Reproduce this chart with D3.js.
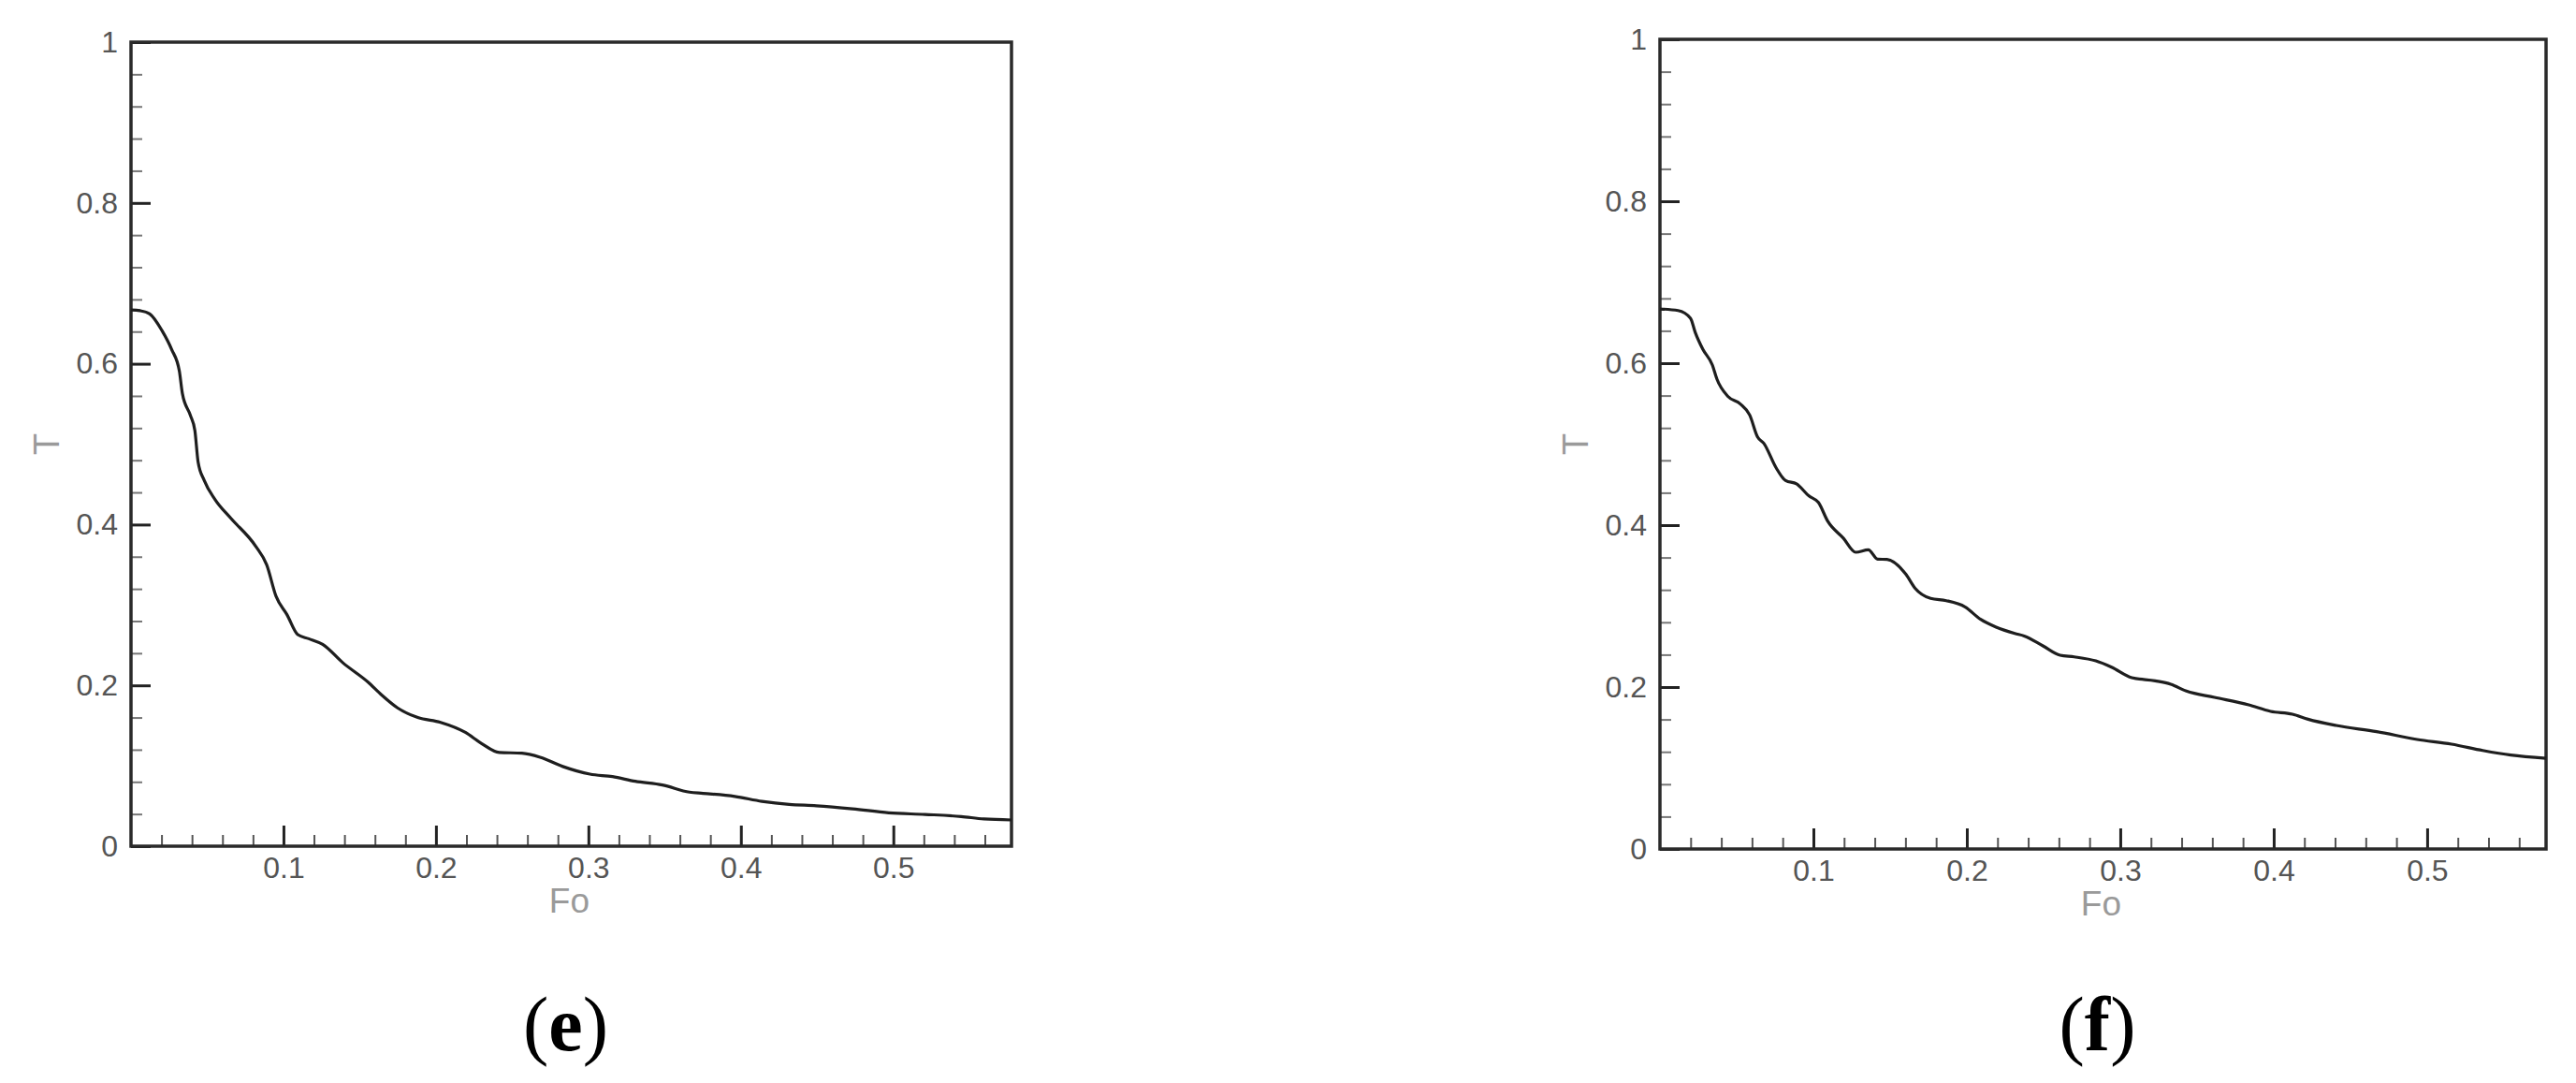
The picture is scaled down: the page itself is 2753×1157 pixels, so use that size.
<!DOCTYPE html>
<html>
<head>
<meta charset="utf-8">
<script src="https://cdn.jsdelivr.net/npm/d3@7"></script>
<style>
  html, body { margin: 0; padding: 0; background: #fff; }
  svg { display: block; }
</style>
</head>
<body>
<script>
// ---- Data ----
const foE = [0.000, 0.006, 0.0123, 0.0204, 0.0266, 0.0317, 0.0337, 0.0389, 0.0419, 0.044, 0.048, 0.0552, 0.0654, 0.0818, 0.089, 0.0951, 0.1023, 0.1094, 0.1166, 0.1257, 0.139, 0.1555, 0.1644, 0.1748, 0.1881, 0.203, 0.2193, 0.2297, 0.2416, 0.2564, 0.2683, 0.2832, 0.301, 0.3158, 0.3307, 0.3485, 0.3663, 0.3752, 0.396, 0.4138, 0.4317, 0.4495, 0.4732, 0.497, 0.5208, 0.5445, 0.5594, 0.5775];
const tE  = [0.667, 0.666, 0.662, 0.641, 0.618, 0.591, 0.563, 0.536, 0.517, 0.478, 0.455, 0.431, 0.408, 0.373, 0.350, 0.311, 0.288, 0.263, 0.258, 0.251, 0.228, 0.204, 0.188, 0.172, 0.160, 0.154, 0.1415, 0.128, 0.1165, 0.1157, 0.1107, 0.0991, 0.0896, 0.0865, 0.0807, 0.0761, 0.0672, 0.0657, 0.0619, 0.0557, 0.0519, 0.0503, 0.0465, 0.0415, 0.0395, 0.0369, 0.0338, 0.0326];

const foF = [0.000, 0.0118, 0.0199, 0.023, 0.028, 0.0341, 0.0372, 0.0443, 0.0524, 0.0585, 0.0636, 0.0677, 0.0758, 0.0819, 0.089, 0.0971, 0.1033, 0.1093, 0.1195, 0.1276, 0.1358, 0.1419, 0.148, 0.1602, 0.1663, 0.1764, 0.1866, 0.1988, 0.209, 0.2191, 0.2313, 0.2374, 0.2496, 0.2608, 0.27, 0.2841, 0.2943, 0.3075, 0.3228, 0.3329, 0.3431, 0.3614, 0.3837, 0.398, 0.4122, 0.4224, 0.4407, 0.4671, 0.4935, 0.5159, 0.5362, 0.5545, 0.5775];
const tF  = [0.667, 0.665, 0.6555, 0.638, 0.617, 0.598, 0.580, 0.559, 0.5495, 0.536, 0.509, 0.501, 0.4705, 0.455, 0.451, 0.436, 0.428, 0.405, 0.384, 0.3665, 0.3695, 0.358, 0.3576, 0.3395, 0.322, 0.3095, 0.3067, 0.299, 0.2836, 0.274, 0.2662, 0.2631, 0.2509, 0.2393, 0.2373, 0.2323, 0.2246, 0.2116, 0.2077, 0.2035, 0.195, 0.1873, 0.178, 0.170, 0.1665, 0.1603, 0.1526, 0.1449, 0.1353, 0.1295, 0.1217, 0.116, 0.1121];

const xMajorTicks = [0.1, 0.2, 0.3, 0.4, 0.5];
const xMinorTicks = [0.02, 0.04, 0.06, 0.08, 0.12, 0.14, 0.16, 0.18, 0.22, 0.24, 0.26, 0.28, 0.32, 0.34, 0.36, 0.38, 0.42, 0.44, 0.46, 0.48, 0.52, 0.54, 0.56];
const yMajorTicks = [0, 0.2, 0.4, 0.6, 0.8, 1];
const yMinorTicks = [0.04, 0.08, 0.12, 0.16, 0.24, 0.28, 0.32, 0.36, 0.44, 0.48, 0.52, 0.56, 0.64, 0.68, 0.72, 0.76, 0.84, 0.88, 0.92, 0.96];
const xDomain = [0, 0.5775];
const yDomain = [0, 1];
const xTitle = "Fo";
const yTitle = "T";
const captions = ["e", "f"];

// ---- Layout ----
const W = 2753, H = 1157;
const panels = [
  { fo: foE, t: tE, left: 140, right: 1081, top: 45, bottom: 904, cap: captions[0] },
  { fo: foF, t: tF, left: 1774, right: 2721, top: 42, bottom: 907, cap: captions[1] }
];

const svg = d3.select("body").append("svg")
  .attr("width", W).attr("height", H)
  .attr("viewBox", `0 0 ${W} ${H}`);
svg.append("rect").attr("width", W).attr("height", H).attr("fill", "#fff");

const sans = "'Liberation Sans', Arial, Helvetica, sans-serif";
const serif = "'Liberation Serif', 'Times New Roman', serif";

panels.forEach(p => {
  const x = d3.scaleLinear().domain(xDomain).range([p.left, p.right]);
  const y = d3.scaleLinear().domain(yDomain).range([p.bottom, p.top]);
  const g = svg.append("g");

  // minor ticks x
  const gxMin = g.append("g").attr("transform", `translate(0,${p.bottom})`)
    .call(d3.axisBottom(x).tickValues(xMinorTicks).tickSize(-12).tickFormat(""));
  gxMin.select(".domain").remove();
  gxMin.selectAll(".tick line").attr("stroke", "#555").attr("stroke-width", 2);

  // major ticks x
  const gx = g.append("g").attr("transform", `translate(0,${p.bottom})`)
    .call(d3.axisBottom(x).tickValues(xMajorTicks).tickSize(-22).tickPadding(11)
      .tickFormat(d3.format(".1f")));
  gx.select(".domain").remove();
  gx.selectAll(".tick line").attr("stroke", "#222").attr("stroke-width", 3);
  gx.selectAll(".tick text").attr("font-family", sans).attr("font-size", 32)
    .attr("fill", "#555");

  // minor ticks y
  const gyMin = g.append("g").attr("transform", `translate(${p.left},0)`)
    .call(d3.axisLeft(y).tickValues(yMinorTicks).tickSize(-12).tickFormat(""));
  gyMin.select(".domain").remove();
  gyMin.selectAll(".tick line").attr("stroke", "#777").attr("stroke-width", 2);

  // major ticks y
  const gy = g.append("g").attr("transform", `translate(${p.left},0)`)
    .call(d3.axisLeft(y).tickValues(yMajorTicks).tickSize(-21).tickPadding(14)
      .tickFormat(d => d === 0 ? "0" : d === 1 ? "1" : d3.format(".1f")(d)));
  gy.select(".domain").remove();
  gy.selectAll(".tick line").attr("stroke", "#222").attr("stroke-width", 3);
  gy.selectAll(".tick text").attr("font-family", sans).attr("font-size", 32)
    .attr("fill", "#555");

  // frame
  g.append("rect")
    .attr("x", x(xDomain[0])).attr("y", y(yDomain[1]))
    .attr("width", x(xDomain[1]) - x(xDomain[0]))
    .attr("height", y(yDomain[0]) - y(yDomain[1]))
    .attr("fill", "none").attr("stroke", "#2a2a2a").attr("stroke-width", 3.5);

  // curve
  const pts = p.fo.map((f, i) => [f, p.t[i]]);
  g.append("path").datum(pts)
    .attr("fill", "none").attr("stroke", "#1e1e1e").attr("stroke-width", 3.2)
    .attr("stroke-linejoin", "round")
    .attr("d", d3.line().x(d => x(d[0])).y(d => y(d[1])).curve(d3.curveMonotoneX));

  // axis titles
  g.append("text")
    .attr("x", x(0.2875)).attr("y", p.bottom + 71)
    .attr("text-anchor", "middle").attr("font-family", sans)
    .attr("font-size", 37).attr("fill", "#9a9a9a").text(xTitle);
  g.append("text")
    .attr("transform", `translate(${p.left - 91},${(p.top + p.bottom) / 2}) rotate(-90)`)
    .attr("text-anchor", "middle").attr("dy", "0.36em").attr("font-family", sans)
    .attr("font-size", 38).attr("fill", "#9a9a9a").text(yTitle);

  // caption
  const cap = g.append("text")
    .attr("x", (p.left + p.right) / 2 - 6).attr("y", 1122)
    .attr("text-anchor", "middle").attr("font-family", serif)
    .attr("font-size", 82).attr("fill", "#000");
  cap.append("tspan").text("(");
  cap.append("tspan").attr("font-weight", "bold").text(p.cap);
  cap.append("tspan").text(")");
});
</script>
</body>
</html>
